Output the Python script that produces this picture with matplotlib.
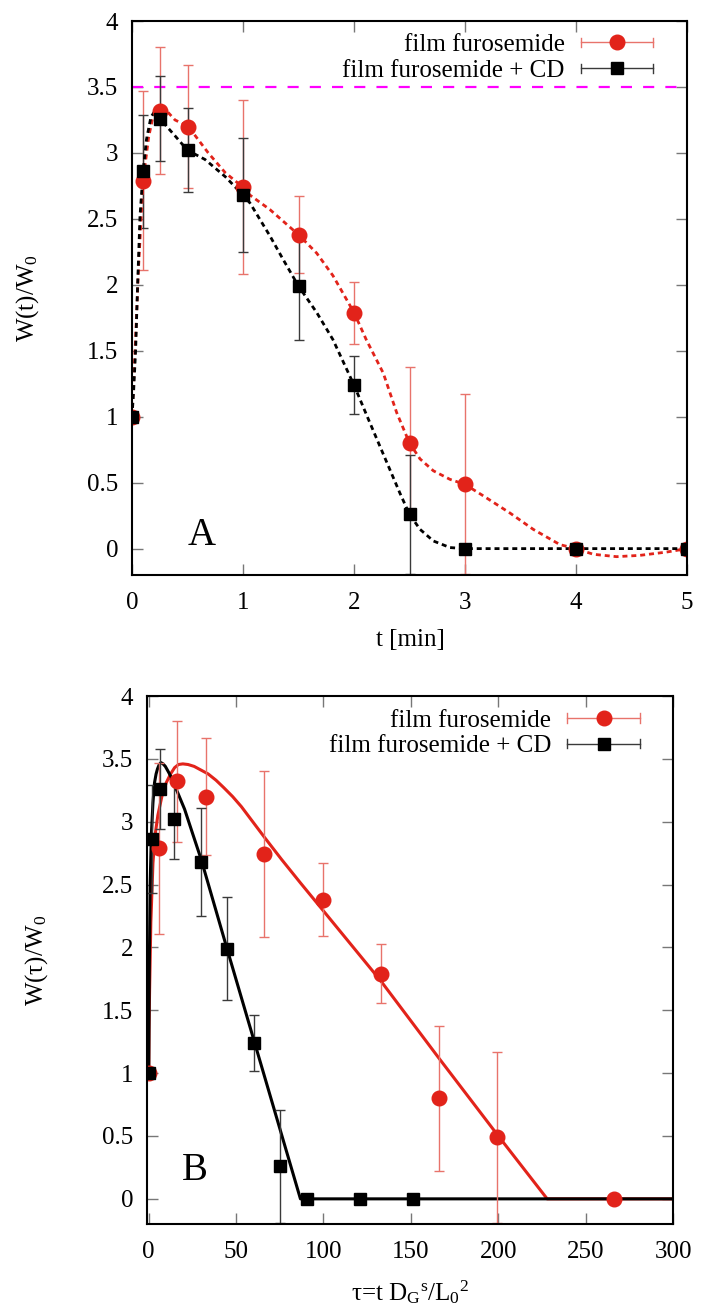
import numpy as np
import matplotlib
matplotlib.use('Agg')
import matplotlib.pyplot as plt
from matplotlib.lines import Line2D
from matplotlib.legend_handler import HandlerBase
from matplotlib.ticker import StrMethodFormatter

plt.rcParams['font.family'] = ['Liberation Serif', 'DejaVu Serif']
plt.rcParams['mathtext.fontset'] = 'custom'
plt.rcParams['mathtext.rm'] = 'Liberation Serif'
plt.rcParams['mathtext.it'] = 'Liberation Serif:italic'

# measured points (time in minutes), same values for both panels
t_min = [0, 0.1, 0.25, 0.5, 1, 1.5, 2, 2.5, 3, 4, 5]
w_red = [1.0, 2.79, 3.32, 3.20, 2.74, 2.38, 1.79, 0.80, 0.49, 0.0, 0.0]
e_red = [0, 0.68, 0.48, 0.465, 0.66, 0.29, 0.235, 0.575, 0.68, 0, 0]
w_blk = [1.0, 2.86, 3.26, 3.02, 2.68, 1.99, 1.24, 0.26, 0.0, 0.0, 0.0]
e_blk = [0, 0.43, 0.32, 0.32, 0.43, 0.41, 0.22, 0.45, 0, 0, 0]

# rescaled time tau for panel B
tau_red = [0, 6, 16.3, 32.8, 66.2, 99.5, 132.9, 166.2, 199.5, 266.5, 333]
tau_blk = [0, 2, 6.5, 14.5, 29.7, 44.8, 60.1, 75.3, 90.6, 120.9, 151.3]

# smoothed curves in panel A
sm_red_t = [0, 0.03, 0.06, 0.1, 0.15, 0.19, 0.25, 0.3, 0.387, 0.507, 0.687, 0.84, 1.0,
            1.063, 1.243, 1.5, 1.664, 1.81, 2.0, 2.11, 2.264, 2.385, 2.5, 2.595, 2.715,
            2.865, 3.0, 3.165, 3.405, 3.615, 3.856, 4.0, 4.156, 4.366, 4.577, 4.817, 5.0]
sm_red_w = [1.0, 1.55, 2.15, 2.79, 3.12, 3.28, 3.32, 3.33, 3.25, 3.20, 3.0, 2.85, 2.74,
            2.68, 2.57, 2.38, 2.24, 2.07, 1.79, 1.585, 1.33, 1.03, 0.80, 0.68, 0.59,
            0.525, 0.487, 0.40, 0.27, 0.146, 0.03, 0.0, -0.043, -0.061, -0.051, -0.026, 0.0]
sm_blk_t = [0, 0.015, 0.033, 0.051, 0.072, 0.1, 0.13, 0.17, 0.2, 0.25, 0.387, 0.5, 0.658,
            0.84, 1.0, 1.063, 1.243, 1.363, 1.5, 1.664, 1.81, 2.0, 2.13, 2.414, 2.5, 2.595,
            2.715, 2.865, 3.0, 5.0]
sm_blk_w = [1.0, 1.2, 1.51, 2.01, 2.52, 2.86, 3.1, 3.27, 3.31, 3.26, 3.13, 3.02, 2.95,
            2.82, 2.68, 2.62, 2.37, 2.19, 1.99, 1.79, 1.585, 1.24, 0.98, 0.42, 0.26, 0.146,
            0.058, 0.008, 0.0, 0.0]

# model curves in panel B
fit_red_tau = [0, 0.15, 0.5, 1.2, 2.4, 3.7, 5.2, 7.5, 10, 12.5, 14.8, 17, 19.5, 22.5, 26,
               30, 34, 38.5, 43, 48, 53, 59.5, 66, 76, 87, 100, 133, 166, 199.5, 228, 300]
fit_red_w = [1.0, 1.35, 1.67, 2.2, 2.67, 2.9, 3.05, 3.2, 3.31, 3.38, 3.43, 3.455, 3.46,
             3.455, 3.44, 3.41, 3.38, 3.33, 3.27, 3.20, 3.12, 3.00, 2.88, 2.70, 2.51,
             2.29, 1.73, 1.12, 0.51, 0.0, 0.0]
fit_blk_tau = [0, 0.3, 0.8, 1.5, 2.4, 3.3, 4.2, 5, 6, 7, 8.2, 9.5, 11.5, 13, 16, 20.5,
               25, 30, 45, 60, 86.8, 300]
fit_blk_w = [1.0, 1.8, 2.5, 2.9, 3.15, 3.31, 3.38, 3.42, 3.455, 3.47, 3.46, 3.44, 3.39,
             3.35, 3.25, 3.10, 2.91, 2.70, 1.98, 1.27, 0.0, 0.0]

saturation = 3.5
labels = ['film furosemide', 'film furosemide + CD']

RED = '#e2231a'
RED_BAR = '#e8736b'
BLK_BAR = '#3a3a3a'
FS = 18


class ErrbarHandler(HandlerBase):
    # gnuplot-like legend sample: |---marker---|
    def create_artists(self, legend, orig_handle, xdescent, ydescent, width, height, fontsize, trans):
        y = (height - ydescent) / 2.0
        x0, x1 = -xdescent, -xdescent + width
        c = orig_handle.get_color()
        lw = orig_handle.get_linewidth()
        arts = [Line2D([x0, x1], [y, y], color=c, lw=lw),
                Line2D([x0, x0], [y - 3.3, y + 3.3], color=c, lw=lw),
                Line2D([x1, x1], [y - 3.3, y + 3.3], color=c, lw=lw),
                Line2D([(x0 + x1) / 2], [y], ls='none', marker=orig_handle.get_marker(),
                       ms=orig_handle.get_markersize(), mfc=orig_handle.get_markerfacecolor(),
                       mec=orig_handle.get_markeredgecolor())]
        for a in arts:
            a.set_transform(trans)
        return arts


def style_axes(ax):
    for s in ax.spines.values():
        s.set_linewidth(1.5)
    ax.tick_params(direction='in', length=8, width=1, color='#777777', labelsize=FS,
                   top=True, right=True)
    ax.tick_params(axis='y', pad=10)
    ax.tick_params(axis='x', pad=12)
    ax.yaxis.set_major_formatter(StrMethodFormatter('{x:g}'))
    ax.set_ylim(-0.2, 4)
    ax.set_yticks(np.arange(0, 4.01, 0.5))


def add_legend(ax, anchor):
    h1 = Line2D([], [], color=RED_BAR, lw=1, marker='o', ms=10.5, mfc=RED, mec=RED)
    h2 = Line2D([], [], color=BLK_BAR, lw=1, marker='s', ms=8.5, mfc='black', mec='black')
    ax.legend([h1, h2], labels, handler_map={Line2D: ErrbarHandler()}, loc='upper right',
              bbox_to_anchor=anchor, frameon=False, markerfirst=False, fontsize=FS,
              handlelength=2.9, handletextpad=0.64, labelspacing=0.13, borderpad=0, borderaxespad=0)


fig = plt.figure(figsize=(7.05, 13.14), dpi=100)
W, H = 705, 1314
axA = fig.add_axes([132 / W, 1 - 575 / H, (687 - 132) / W, (575 - 21) / H])
axB = fig.add_axes([147 / W, 1 - 1224 / H, (673 - 147) / W, (1224 - 696) / H])

# ---- panel A
axA.axhline(saturation, color='#ff00ff', lw=1.6, dashes=(5, 5))
axA.errorbar(t_min, w_red, yerr=e_red, fmt='o', ms=10.5, color=RED, ecolor=RED_BAR,
             elinewidth=1, capsize=3.5, capthick=1)
axA.errorbar(t_min, w_blk, yerr=e_blk, fmt='s', ms=8.5, color='black', ecolor=BLK_BAR,
             elinewidth=1, capsize=3.5, capthick=1)
axA.plot(sm_red_t, sm_red_w, color=RED, lw=2.0, dashes=(1.8, 1.4))
axA.plot(sm_blk_t, sm_blk_w, color='black', lw=2.0, dashes=(1.8, 1.4))
axA.set_xlim(0, 5)
style_axes(axA)
axA.text(0.126, 0.072, 'A', transform=axA.transAxes, fontsize=28, ha='center', va='center')
add_legend(axA, (0.939, 0.977))

# ---- panel B
axB.plot(fit_red_tau, fit_red_w, color=RED, lw=2.2)
axB.plot(fit_blk_tau, fit_blk_w, color='black', lw=2.2)
axB.errorbar(tau_red, w_red, yerr=e_red, fmt='o', ms=10.5, color=RED, ecolor=RED_BAR,
             elinewidth=1, capsize=3.5, capthick=1)
axB.errorbar(tau_blk, w_blk, yerr=e_blk, fmt='s', ms=8.5, color='black', ecolor=BLK_BAR,
             elinewidth=1, capsize=3.5, capthick=1)
axB.set_xlim(-1, 300)
axB.set_xticks(np.arange(0, 301, 50))
style_axes(axB)
axB.text(0.091, 0.102, 'B', transform=axB.transAxes, fontsize=28, ha='center', va='center')
add_legend(axB, (0.937, 0.975))

# axis labels
fig.text(28 / W, 1 - 298 / H, r'W(t)/W$_\mathrm{0}$', rotation=90, fontsize=FS, ha='center', va='center')
fig.text(410 / W, 1 - 640 / H, 't [min]', fontsize=FS, ha='center', va='center')
fig.text(37 / W, 1 - 960 / H, r'W(τ)/W$_\mathrm{0}$', rotation=90, fontsize=FS, ha='center', va='center')
fig.text(410 / W, 1 - 1292 / H,
         r'τ=t D$_\mathrm{G}$$^\mathrm{s}$/L$_\mathrm{0}$$^\mathrm{2}$',
         fontsize=FS, ha='center', va='center')

fig.savefig('out.png', dpi=100)
